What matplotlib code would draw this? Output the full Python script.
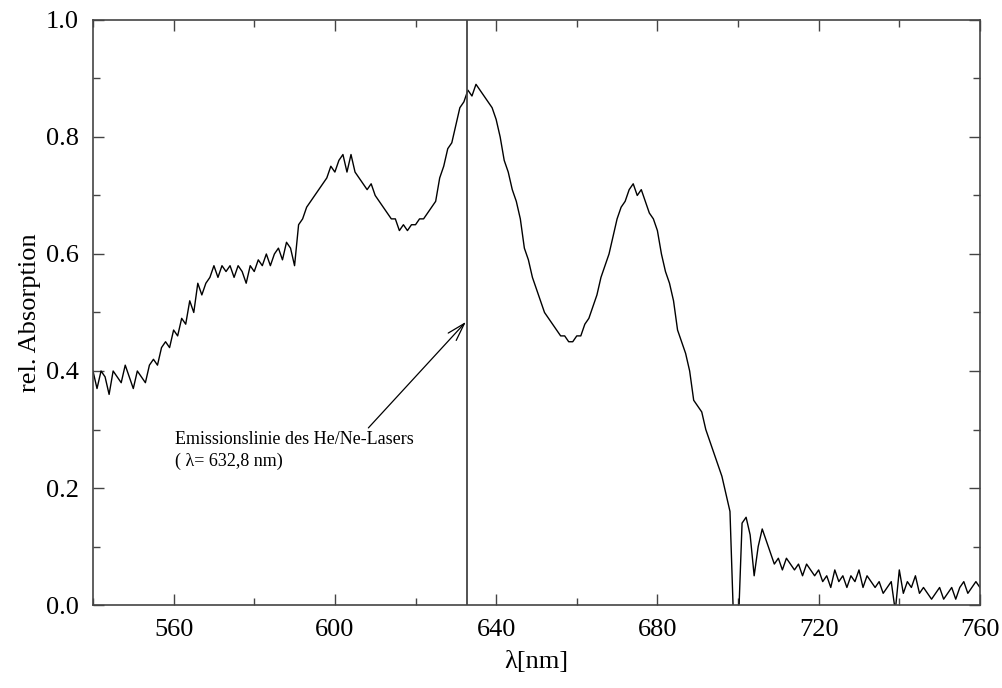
import matplotlib
matplotlib.use("Agg")
import matplotlib.pyplot as plt
import numpy as np
from matplotlib.ticker import MultipleLocator

plt.rcParams['font.family'] = ['Liberation Serif', 'DejaVu Serif']

# Wellenlaenge in nm (1 nm Schritte, 540..760)
wavelength = list(range(540, 761))

# relative Absorption
absorption = [
    0.40, 0.37, 0.40, 0.39, 0.36, 0.40, 0.39, 0.38, 0.41, 0.39,   # 540-549
    0.37, 0.40, 0.39, 0.38, 0.41, 0.42, 0.41, 0.44, 0.45, 0.44,   # 550-559
    0.47, 0.46, 0.49, 0.48, 0.52, 0.50, 0.55, 0.53, 0.55, 0.56,   # 560-569
    0.58, 0.56, 0.58, 0.57, 0.58, 0.56, 0.58, 0.57, 0.55, 0.58,   # 570-579
    0.57, 0.59, 0.58, 0.60, 0.58, 0.60, 0.61, 0.59, 0.62, 0.61,   # 580-589
    0.58, 0.65, 0.66, 0.68, 0.69, 0.70, 0.71, 0.72, 0.73, 0.75,   # 590-599
    0.74, 0.76, 0.77, 0.74, 0.77, 0.74, 0.73, 0.72, 0.71, 0.72,   # 600-609
    0.70, 0.69, 0.68, 0.67, 0.66, 0.66, 0.64, 0.65, 0.64, 0.65,   # 610-619
    0.65, 0.66, 0.66, 0.67, 0.68, 0.69, 0.73, 0.75, 0.78, 0.79,   # 620-629
    0.82, 0.85, 0.86, 0.88, 0.87, 0.89, 0.88, 0.87, 0.86, 0.85,   # 630-639
    0.83, 0.80, 0.76, 0.74, 0.71, 0.69, 0.66, 0.61, 0.59, 0.56,   # 640-649
    0.54, 0.52, 0.50, 0.49, 0.48, 0.47, 0.46, 0.46, 0.45, 0.45,   # 650-659
    0.46, 0.46, 0.48, 0.49, 0.51, 0.53, 0.56, 0.58, 0.60, 0.63,   # 660-669
    0.66, 0.68, 0.69, 0.71, 0.72, 0.70, 0.71, 0.69, 0.67, 0.66,   # 670-679
    0.64, 0.60, 0.57, 0.55, 0.52, 0.47, 0.45, 0.43, 0.40, 0.35,   # 680-689
    0.34, 0.33, 0.30, 0.28, 0.26, 0.24, 0.22, 0.19, 0.16, -0.05,  # 690-699
    -0.05, 0.14, 0.15, 0.12, 0.05, 0.10, 0.13, 0.11, 0.09, 0.07,  # 700-709
    0.08, 0.06, 0.08, 0.07, 0.06, 0.07, 0.05, 0.07, 0.06, 0.05,   # 710-719
    0.06, 0.04, 0.05, 0.03, 0.06, 0.04, 0.05, 0.03, 0.05, 0.04,   # 720-729
    0.06, 0.03, 0.05, 0.04, 0.03, 0.04, 0.02, 0.03, 0.04, -0.01,  # 730-739
    0.06, 0.02, 0.04, 0.03, 0.05, 0.02, 0.03, 0.02, 0.01, 0.02,   # 740-749
    0.03, 0.01, 0.02, 0.03, 0.01, 0.03, 0.04, 0.02, 0.03, 0.04,   # 750-759
    0.03,                                                         # 760
]

laser_line = 632.8

fig = plt.figure(figsize=(10.03, 6.88), dpi=100)
ax = fig.add_axes([0.0927, 0.1206, 0.8843, 0.8504])

ax.plot(wavelength, absorption, color='black', lw=1.0)
ax.axvline(laser_line, color='#444444', lw=1.3)

ax.set_xlim(540, 760)
ax.set_ylim(0, 1.0)
ax.xaxis.set_major_locator(MultipleLocator(40))
ax.xaxis.set_minor_locator(MultipleLocator(20))
ax.yaxis.set_major_locator(MultipleLocator(0.2))
ax.yaxis.set_minor_locator(MultipleLocator(0.1))
ax.yaxis.set_major_formatter(plt.FormatStrFormatter('%.1f'))
ax.tick_params(which='both', direction='in', top=True, right=True,
               labelsize=19, pad=10, color='#444444')
ax.tick_params(which='major', length=8, width=1)
ax.tick_params(which='minor', length=5, width=1)
for s in ax.spines.values():
    s.set_color('#444444')
    s.set_linewidth(1.2)

ax.set_xlabel('λ[nm]', fontsize=19, labelpad=7)
ax.set_ylabel('rel. Absorption', fontsize=19, labelpad=4)

ax.annotate('Emissionslinie des He/Ne-Lasers\n( λ= 632,8 nm)',
            xy=(632.5, 0.484), xytext=(560.3, 0.298),
            fontsize=13, va='top', ha='left', linespacing=1.4,
            arrowprops=dict(arrowstyle='->,head_width=0.3,head_length=1.0',
                            color='black', lw=0.9, shrinkA=0, shrinkB=0,
                            relpos=(0.8, 1.0)))

fig.savefig('out.png', dpi=100)
